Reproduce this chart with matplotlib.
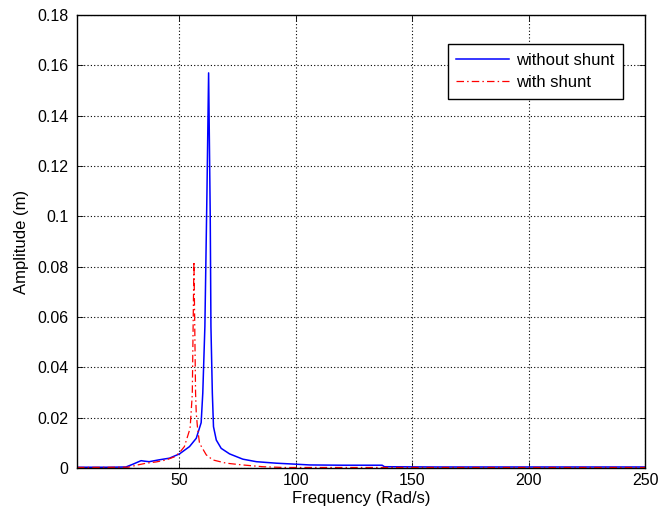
import numpy as np
import matplotlib
matplotlib.use('Agg')
import matplotlib.pyplot as plt
from matplotlib.ticker import FormatStrFormatter

# amplitude response
freq_no_shunt = [6, 20, 27, 30, 33.5, 35, 37, 41, 45.7, 50, 54.3, 57.2, 59.3, 60.0, 60.9,
                 61.8, 62.5, 63.2, 63.5, 64.1, 64.6, 65.8, 67.9, 71.5, 77.2, 83, 91.6,
                 100, 106, 120, 137, 138, 160, 200, 250]
amp_no_shunt = [0.0003, 0.0003, 0.0004, 0.0015, 0.0029, 0.0027, 0.0025, 0.0032, 0.0039,
                0.0056, 0.0085, 0.0118, 0.018, 0.0298, 0.0562, 0.11, 0.157, 0.10, 0.0562,
                0.0298, 0.0164, 0.0111, 0.0078, 0.0056, 0.0035, 0.0025, 0.0019, 0.0015,
                0.0012, 0.0011, 0.0011, 0.0005, 0.0004, 0.0004, 0.0004]

freq_shunt = [6, 28, 32, 35.7, 40, 44.3, 48, 50, 52.1, 54.3, 54.6, 55.4, 55.5, 55.9, 56.2,
              56.5, 56.9, 57.2, 57.7, 58.6, 61.5, 64.3, 70.1, 77.2, 85.8, 95, 250]
amp_shunt = [0.0002, 0.0003, 0.0012, 0.0019, 0.0024, 0.0032, 0.0045, 0.0061, 0.0085, 0.015,
             0.0164, 0.028, 0.0298, 0.06, 0.082, 0.06, 0.0298, 0.0217, 0.0164, 0.0098,
             0.0052, 0.0032, 0.0019, 0.0012, 0.0005, 0.0002, 0.0002]

plt.rcParams['font.family'] = ['Liberation Sans', 'DejaVu Sans']

fig = plt.figure(figsize=(6.6, 5.15), dpi=100)
ax = fig.add_axes([0.1167, 0.0913, 0.861, 0.8796])

ax.plot(freq_no_shunt, amp_no_shunt, color='#0000ff', lw=1.1, label='without shunt')
ax.plot(freq_shunt, amp_shunt, color='#ff0000', lw=0.9, linestyle=(0, (6, 2.5, 1.2, 2.5)),
        label='with shunt')

ax.set_xlim(6, 250)
ax.set_ylim(0, 0.18)
ax.set_xticks([50, 100, 150, 200, 250])
ax.set_yticks(np.arange(0, 0.181, 0.02))
ax.yaxis.set_major_formatter(FormatStrFormatter('%g'))
ax.tick_params(direction='in', top=True, right=True, labelsize=11.5, length=4, width=0.6)
ax.tick_params(axis='y', pad=6)
ax.grid(True, color='black', linestyle=(0, (1, 2)), linewidth=0.8)
for s in ax.spines.values():
    s.set_linewidth(1.0)

ax.set_xlabel('Frequency (Rad/s)', fontsize=12, labelpad=2)
ax.set_ylabel('Amplitude (m)', fontsize=12, labelpad=6)

leg = ax.legend(loc='upper right', bbox_to_anchor=(0.96, 0.935), fontsize=12,
                fancybox=False, framealpha=1, edgecolor='black', borderaxespad=0,
                handlelength=3.2, handletextpad=0.4, labelspacing=0.45, borderpad=0.5)
leg.get_frame().set_linewidth(1.0)

fig.savefig('out.png', dpi=100)
